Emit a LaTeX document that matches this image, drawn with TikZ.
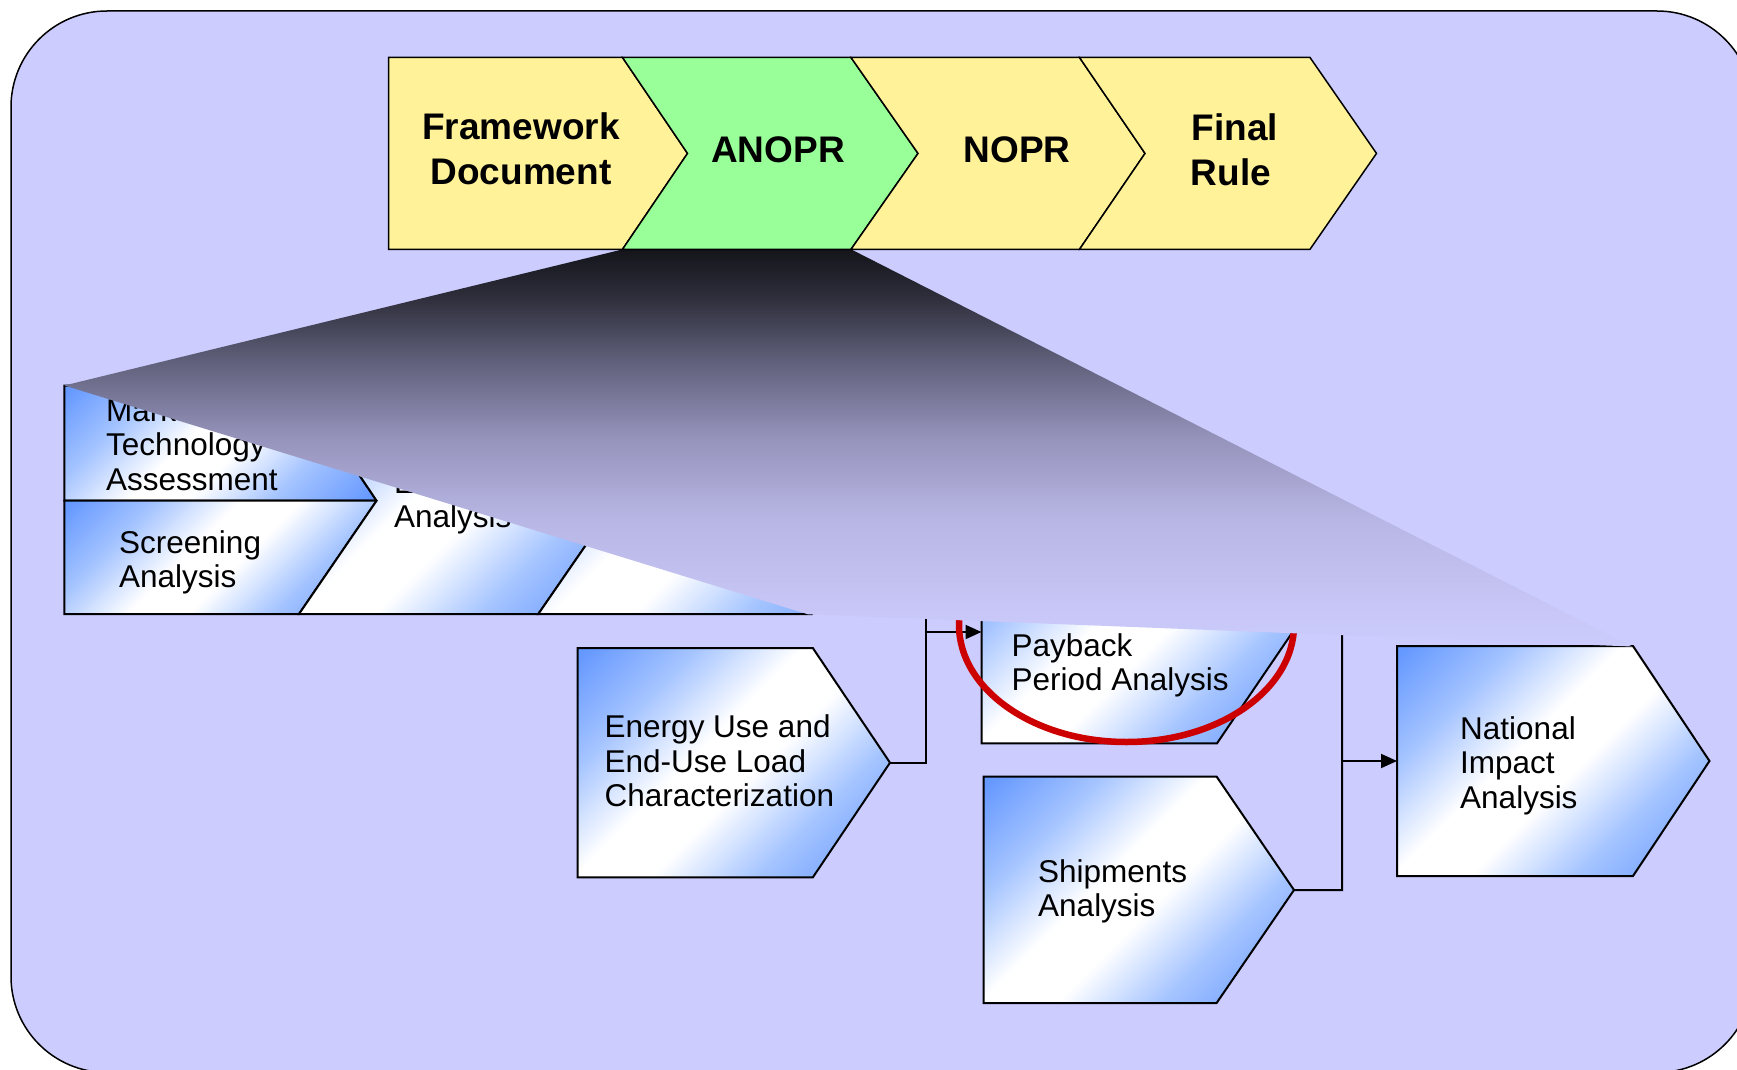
\documentclass[tikz,border=0pt]{standalone}
\usepackage{fontspec}
\setmainfont{Liberation Sans}
\usetikzlibrary{arrows.meta}
\definecolor{bgcol}{RGB}{204,204,255}
\definecolor{stageyellow}{RGB}{255,242,153}
\definecolor{stagegreen}{RGB}{153,255,153}
\definecolor{bblue}{RGB}{102,153,255}
\definecolor{bmid}{RGB}{165,196,255}
\definecolor{ellred}{RGB}{204,0,0}
\definecolor{wA}{RGB}{20,20,26}
\definecolor{wB}{RGB}{48,48,62}
\definecolor{wC}{RGB}{95,95,122}
\definecolor{wD}{RGB}{150,148,188}
\definecolor{wE}{RGB}{184,182,228}
\definecolor{wF}{RGB}{200,199,247}
\definecolor{wG}{RGB}{203,203,253}
\pgfdeclareverticalshading{wedgeshade}{100bp}{color(0bp)=(wG); color(25bp)=(wG); color(29.2bp)=(wF); color(41bp)=(wE); color(51.1bp)=(wD); color(61.1bp)=(wC); color(68.6bp)=(wB); color(75bp)=(wA); color(100bp)=(wA)}
\pgfdeclareverticalshading{boxshade}{100bp}{color(0bp)=(bblue); color(16bp)=(bblue); color(32bp)=(bmid); color(46bp)=(white); color(56bp)=(white); color(70bp)=(bmid); color(84bp)=(bblue); color(100bp)=(bblue)}
\begin{document}
\begin{tikzpicture}[x=1pt,y=-1pt,
  stage/.style={draw=black, line width=1.5pt, line join=miter},
  stagetxt/.style={font=\fontsize{37}{44.5}\selectfont\bfseries, inner sep=0pt, anchor=base},
  procbox/.style={shading=boxshade, shading angle=45, draw=black, line width=2pt, line join=miter},
  boxtxt/.style={font=\fontsize{31.5}{34.5}\selectfont, inner sep=0pt, anchor=base west},
  conn/.style={draw=black, line width=2pt},
  arr/.style={-{Triangle[length=16pt,width=14pt]}}
]
\useasboundingbox (0,0) rectangle (1737,1070);
\clip (0,0) rectangle (1737,1070);
% background panel
\draw[fill=bgcol, line width=1.5pt, rounded corners=96pt] (11,11) rectangle (1753,1072.5);

% ---- lower left group (mostly hidden) ----
\shadedraw[procbox] (64.3,385.5) -- (299,385.5) -- (376.6,500.7) -- (64.3,500.7) -- cycle;
\shadedraw[procbox] (64.3,500.7) -- (376.6,500.7) -- (299,614) -- (64.3,614) -- cycle;
\shadedraw[procbox] (299,385.5) -- (538.3,385.5) -- (616.5,500.7) -- (538.3,614) -- (299,614) -- (376.6,500.7) -- cycle;
\shadedraw[procbox] (538.3,385.5) -- (812,385.5) -- (890,500.7) -- (812,614) -- (538.3,614) -- (616.5,500.7) -- cycle;
\node[boxtxt] (tMarket) at (106,421) {\begin{tabular}[t]{@{}l@{}}Market and\\Technology\\Assessment\end{tabular}};
\node[boxtxt] (tScreen) at (119,553) {\begin{tabular}[t]{@{}l@{}}Screening\\Analysis\end{tabular}};
\node[boxtxt] (tEngin) at (394,493) {\begin{tabular}[t]{@{}l@{}}Engineering\\Analysis\end{tabular}};

% ---- process boxes ----
\shadedraw[procbox] (577.5,648) -- (812.8,648) -- (890,762.7) -- (812.8,877.4) -- (577.5,877.4) -- cycle;
\coordinate (enTip) at (890,762.7);
\node[boxtxt] (tEnergy) at (604.5,737.5) {\begin{tabular}[t]{@{}l@{}}Energy Use and\\End-Use Load\\Characterization\end{tabular}};

\shadedraw[procbox] (981.5,516) -- (1217,516) -- (1294,630) -- (1217,743.3) -- (981.5,743.3) -- cycle;
\coordinate (pbWest) at (981.5,632);
\coordinate (pbTip) at (1294,630);
\node[boxtxt] (tPayback) at (1011.4,656) {\begin{tabular}[t]{@{}l@{}}Payback\\Period Analysis\end{tabular}};

\shadedraw[procbox] (983.7,776.6) -- (1216.6,776.6) -- (1294,890) -- (1216.6,1003) -- (983.7,1003) -- cycle;
\coordinate (shTip) at (1294,890);
\node[boxtxt] (tShip) at (1038,882) {\begin{tabular}[t]{@{}l@{}}Shipments\\Analysis\end{tabular}};

\shadedraw[procbox] (1397,646) -- (1633,646) -- (1709.5,761) -- (1633,876) -- (1397,876) -- cycle;
\coordinate (naWest) at (1397,761);
\node[boxtxt] (tNational) at (1460,739.3) {\begin{tabular}[t]{@{}l@{}}National\\Impact\\Analysis\end{tabular}};

% ---- connectors ----
\coordinate (jA) at (926,762.7);
\coordinate (jAtop) at (926,590);
\coordinate (jAmid) at (926,632);
\draw[conn] (enTip) -- (jA) -- (jAtop);
\draw[conn,arr] (jAmid) -- (pbWest);
\coordinate (jB) at (1342,890);
\coordinate (jBtop) at (1342,628);
\coordinate (jBmid) at (1342,761);
\draw[conn] (shTip) -- (jB) -- (jBtop) -- (pbTip);
\draw[conn,arr] (jBmid) -- (naWest);

% ---- red ellipse ----
\coordinate (ellC) at (1126.5,625);
\draw[ellred, line width=6.5pt] (ellC) ellipse [x radius=167.5pt, y radius=117pt];

% ---- zoom wedge ----
\shade[shading=wedgeshade] (623,249.3) -- (851,249.3) -- (1632,646.5) -- (808,614.3) -- (64.3,385.5) -- cycle;

% ---- stage chevrons ----
\path[stage, fill=stageyellow] (388.5,57.5) -- (622.5,57.5) -- (687.5,153.4) -- (622.5,249.3) -- (388.5,249.3) -- cycle;
\path[stage, fill=stagegreen] (622.5,57.5) -- (851,57.5) -- (918,153.4) -- (851,249.3) -- (622.5,249.3) -- (687.5,153.4) -- cycle;
\path[stage, fill=stageyellow] (851,57.5) -- (1079.5,57.5) -- (1145,153.4) -- (1079.5,249.3) -- (851,249.3) -- (918,153.4) -- cycle;
\path[stage, fill=stageyellow] (1079.5,57.5) -- (1310,57.5) -- (1376.5,153.4) -- (1310,249.3) -- (1079.5,249.3) -- (1145,153.4) -- cycle;
\node[stagetxt] (sFramework) at (521,139.5) {\begin{tabular}[t]{@{}c@{}}Framework\\Document\end{tabular}};
\node[stagetxt] (sANOPR) at (778,162) {ANOPR};
\node[stagetxt] (sNOPR) at (1017,162) {NOPR};
\node[stagetxt] (sFinal) at (1235,141) {Final};
\node[stagetxt] (sRule) at (1231,185.5) {Rule};
\end{tikzpicture}
\end{document}
